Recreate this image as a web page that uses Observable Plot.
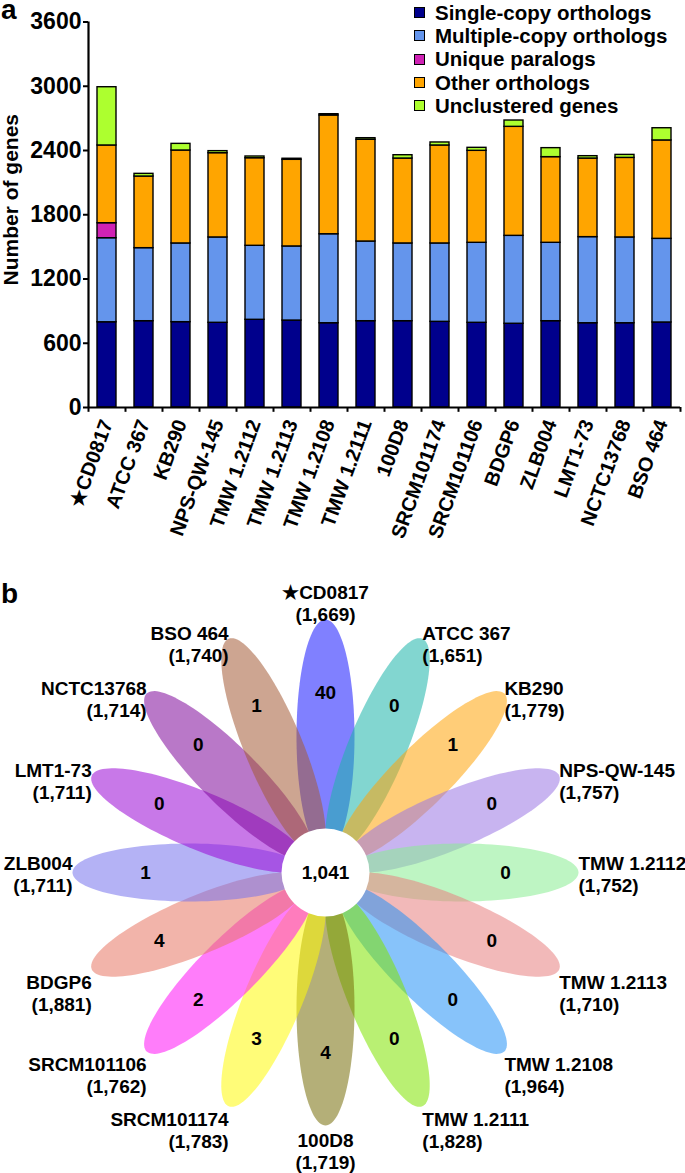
<!DOCTYPE html>
<html><head><meta charset="utf-8">
<script src="https://cdn.jsdelivr.net/npm/d3@7"></script>
<script src="https://cdn.jsdelivr.net/npm/@observablehq/plot@0.6"></script>
<style>
body{margin:0;background:#fff;font-family:"Liberation Sans",Arial,sans-serif;}
#wrap{position:relative;width:685px;height:1173px;overflow:hidden;}
.panel{position:absolute;left:0;}
.letter{position:absolute;left:1px;font-weight:bold;font-size:28px;line-height:19px;}
#legend{position:absolute;left:414px;top:1px;font-weight:bold;font-size:20.5px;}
.row{display:flex;align-items:center;height:23.3px;white-space:nowrap;}
.sw{width:9px;height:9px;border:1px solid #000;margin-right:10px;flex:none;}
</style></head>
<body><div id="wrap"></div>
<script>
// ---------- data: panel a ----------
const strains = ["★CD0817","ATCC 367","KB290","NPS-QW-145","TMW 1.2112","TMW 1.2113","TMW 1.2108","TMW 1.2111","100D8","SRCM101174","SRCM101106","BDGP6","ZLB004","LMT1-73","NCTC13768","BSO 464"];
const categories = ["Single-copy orthologs","Multiple-copy orthologs","Unique paralogs","Other orthologs","Unclustered genes"];
const categoryColors = ["#00008c","#6495ec","#cf22b4","#ffa500","#adff2f"];
const singleCopy     = [796,806,797,791,819,812,787,806,806,800,791,782,806,787,787,794];
const multipleCopy   = [785,682,735,797,691,692,831,744,726,732,747,821,732,804,801,781];
const uniqueParalogs = [140,0,0,0,0,0,0,0,0,0,0,0,0,0,0,0];
const otherOrthologs = [726,669,868,787,818,809,1109,950,793,915,859,1018,800,734,743,919];
const unclustered    = [544,25,62,19,16,10,12,15,31,28,28,59,84,22,28,114];
const yTicks = [0,600,1200,1800,2400,3000,3600];

// ---------- data: panel b ----------
const vennStrains = ["★CD0817","ATCC 367","KB290","NPS-QW-145","TMW 1.2112","TMW 1.2113","TMW 1.2108","TMW 1.2111","100D8","SRCM101174","SRCM101106","BDGP6","ZLB004","LMT1-73","NCTC13768","BSO 464"];
const uniqueCounts = [40,0,1,0,0,0,0,0,4,3,2,4,1,0,0,1];
const geneTotals = [1669,1651,1779,1757,1752,1710,1964,1828,1719,1783,1762,1881,1711,1711,1714,1740];
const coreCount = 1041;
const petalColors = ["#1818ff","#1cb4aa","#ffa40a","#9b77e4","#89ed92","#e78080","#2592f6","#80e400","#776e0a","#fffa0a","#ff13f6","#e77764","#7773ed","#9b0ad5","#800a9b","#a45b37"];

// ---------- panel a ----------
const wrap = document.getElementById("wrap");
const font = '"Liberation Sans", Arial, sans-serif';
const W = 685, HA = 560, mL = 88, mR = 5, mT = 21.5, mB = 153;
const step = (W - mL - mR) / strains.length;
const series = [singleCopy, multipleCopy, uniqueParalogs, otherOrthologs, unclustered];
const barData = strains.flatMap((s, i) => categories.map((c, k) => ({strain: s, category: c, value: series[k][i]})));

const chartA = Plot.plot({
  width: W, height: HA, marginLeft: mL, marginRight: mR, marginTop: mT, marginBottom: mB,
  style: {fontFamily: font, fontWeight: "bold", color: "#000", background: "#fff", overflow: "visible"},
  x: {domain: strains, paddingInner: 0.5, paddingOuter: 0.25, label: null},
  y: {domain: [0, 3600], label: null},
  color: {domain: categories, range: categoryColors},
  marks: [
    Plot.barY(barData, {x: "strain", y: "value", fill: "category", stroke: "#000", strokeWidth: 1.4}),
    Plot.axisY({ticks: yTicks, tickSize: 5, tickPadding: 2, fontSize: 23, tickFormat: d => String(d), label: null, strokeWidth: 2}),
    Plot.text(["Number of genes"], {frameAnchor: "left", dx: -77, dy: -15, rotate: -90, fontSize: 21, textAnchor: "middle"}),
    Plot.axisX({tickSize: 0, tickRotate: -70, tickPadding: 13, fontSize: 20, label: null}),
    Plot.ruleX(strains, {y1: 0, y2: -45, dx: -step / 2, strokeWidth: 2}),
    Plot.ruleX([strains[strains.length - 1]], {y1: 0, y2: -45, dx: step / 2, strokeWidth: 2}),
    Plot.ruleX([strains[0]], {y1: 0, y2: 3600, dx: -step / 2, strokeWidth: 2.2}),
    Plot.ruleY([0], {strokeWidth: 2.2})
  ]
});
const pa = document.createElement("div"); pa.className = "panel"; pa.style.top = "0px";
pa.appendChild(chartA); wrap.appendChild(pa);

const legend = document.createElement("div"); legend.id = "legend";
categories.forEach((c, k) => {
  const r = document.createElement("div"); r.className = "row";
  const sw = document.createElement("div"); sw.className = "sw"; sw.style.background = categoryColors[k];
  const t = document.createElement("span"); t.textContent = c;
  r.appendChild(sw); r.appendChild(t); legend.appendChild(r);
});
wrap.appendChild(legend);

// ---------- panel b ----------
const HB = 613, topB = 560;
const D = 136, A = 117, B = 29, tipR = D + A, countR = 180, coreR = 44;
const petals = vennStrains.map((s, i) => {
  const th = i * Math.PI / 8;
  return {strain: s, i, th, sx: Math.sin(th), cy: Math.cos(th), count: uniqueCounts[i], total: geneTotals[i], color: petalColors[i]};
});
function outline(p) {
  const pts = [];
  for (let k = 0; k < 120; k++) {
    const psi = k / 120 * 2 * Math.PI;
    const u = D + A * Math.cos(psi), v = B * Math.sin(psi);
    pts.push({x: p.sx * u + p.cy * v, y: p.cy * u - p.sx * v});
  }
  return pts;
}
const fmt = d3.format(",");
const labels = petals.map(p => {
  let off;
  if (p.cy > 0.99) off = 17;
  else if (p.cy < -0.99) off = -25;
  else if (p.cy > 0.01) off = -5;
  else if (p.cy < -0.01) off = -24;
  else off = -1;
  const anchor = Math.abs(p.sx) < 0.01 ? "middle" : p.sx > 0 ? "start" : "end";
  return {x: p.sx * tipR, y: p.cy * tipR + off, text: `${p.strain}\n(${fmt(p.total)})`, anchor};
});
const textStyle = {fontSize: 19, lineHeight: 22 / 19, lineAnchor: "middle", fill: "#000"};

const chartB = Plot.plot({
  width: W, height: HB, margin: 0,
  style: {fontFamily: font, fontWeight: "bold", color: "#000", background: "transparent", overflow: "visible"},
  x: {domain: [-325, 360], axis: null},
  y: {domain: [-301, 312], axis: null},
  marks: [
    ...petals.map(p => Plot.line(outline(p), {x: "x", y: "y", curve: "linear-closed", fill: p.color, fillOpacity: 0.55, stroke: "none"})),
    Plot.dot([{x: 0, y: 0}], {x: "x", y: "y", r: coreR, fill: "#fff", stroke: "none"}),
    Plot.text([{x: 0, y: 0, t: fmt(coreCount)}], {x: "x", y: "y", text: "t", fontSize: 19}),
    Plot.text(petals, {x: p => p.sx * countR, y: p => p.cy * countR, text: p => String(p.count), fontSize: 19}),
    ...["start", "middle", "end"].map(a => Plot.text(labels.filter(l => l.anchor === a), {x: "x", y: "y", text: "text", textAnchor: a, ...textStyle}))
  ]
});
const pb = document.createElement("div"); pb.className = "panel"; pb.style.top = topB + "px";
pb.appendChild(chartB); wrap.appendChild(pb);

const la = document.createElement("div"); la.className = "letter"; la.style.top = "0px"; la.textContent = "a"; wrap.appendChild(la);
const lb = document.createElement("div"); lb.className = "letter"; lb.style.top = "584px"; lb.textContent = "b"; wrap.appendChild(lb);
</script>
</body></html>
